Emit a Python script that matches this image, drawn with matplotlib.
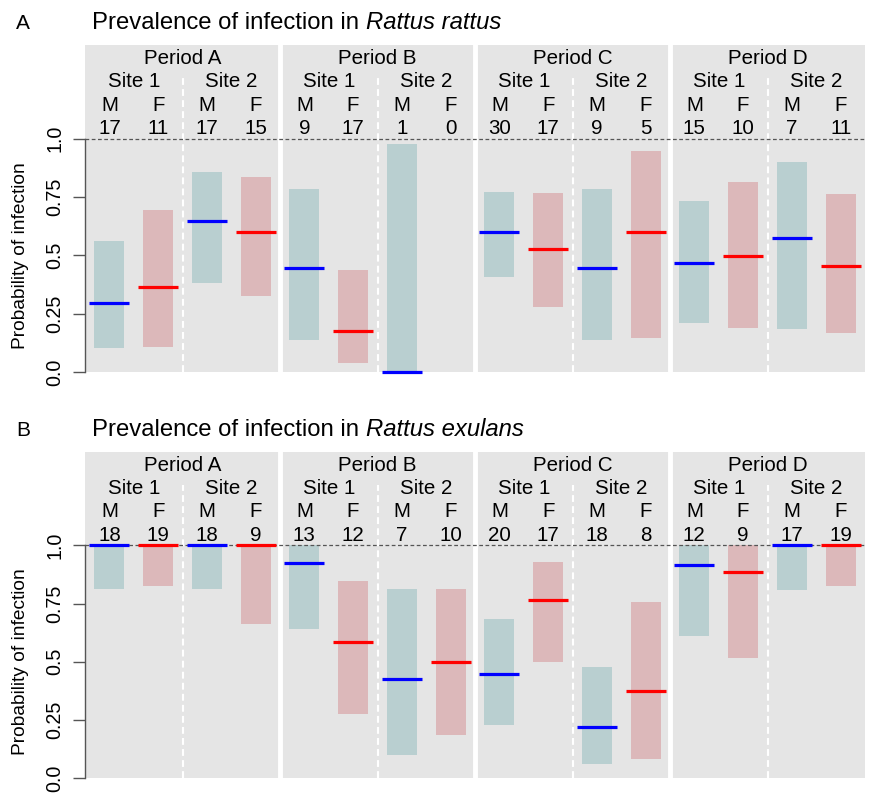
import numpy as np
import matplotlib
matplotlib.use('Agg')
import matplotlib.pyplot as plt

plt.rcParams['font.family'] = ['Liberation Sans', 'DejaVu Sans']

periods = ['Period A', 'Period B', 'Period C', 'Period D']
sites = ['Site 1', 'Site 2']
sexes = ['M', 'F']

# Rattus rattus
n_a = [17, 11, 17, 15, 9, 17, 1, 0, 30, 17, 9, 5, 15, 10, 7, 11]
mean_a = [0.294, 0.366, 0.649, 0.601, 0.446, 0.176, 0.0, np.nan,
          0.600, 0.529, 0.446, 0.600, 0.466, 0.499, 0.573, 0.454]
lo_a = [0.103, 0.107, 0.381, 0.324, 0.136, 0.039, 0.0, np.nan,
        0.406, 0.279, 0.136, 0.147, 0.210, 0.187, 0.184, 0.166]
hi_a = [0.561, 0.693, 0.856, 0.834, 0.786, 0.436, 0.976, np.nan,
        0.770, 0.767, 0.786, 0.947, 0.733, 0.813, 0.899, 0.764]

# Rattus exulans
n_b = [18, 19, 18, 9, 13, 12, 7, 10, 20, 17, 18, 8, 12, 9, 17, 19]
mean_b = [1.0, 1.0, 1.0, 1.0, 0.923, 0.583, 0.425, 0.499,
          0.447, 0.764, 0.219, 0.372, 0.915, 0.887, 1.0, 1.0]
lo_b = [0.812, 0.824, 0.812, 0.662, 0.639, 0.274, 0.097, 0.185,
        0.229, 0.500, 0.062, 0.082, 0.612, 0.516, 0.807, 0.824]
hi_b = [1.0, 1.0, 1.0, 1.0, 1.0, 0.847, 0.812, 0.812,
        0.683, 0.930, 0.476, 0.755, 1.0, 1.0, 1.0, 1.0]

BG = '#e5e5e5'
BAR_COL = {'M': '#b9cfd0', 'F': '#dcb8ba'}
LINE_COL = {'M': '#0000ff', 'F': '#ff0000'}
W, H = 869, 793
FS = 14.8


def draw_panel(ax, n, mean, lo, hi):
    ncol = len(n)
    x = np.arange(ncol)
    ax.set_facecolor(BG)
    ax.set_xlim(-0.5, ncol - 0.5)
    ax.set_ylim(0, 1.4016)

    # separators
    for p in range(1, len(periods)):
        ax.axvline(p * 4 - 0.5, color='white', lw=3.5, zorder=1)
    for p in range(len(periods)):
        ax.plot([p * 4 + 1.5] * 2, [0, 1.26], color='white', lw=1.5,
                ls=(0, (3.3, 2)), zorder=1)

    for i in x:
        sex = sexes[i % 2]
        if np.isnan(mean[i]):
            continue
        ax.bar(i, hi[i] - lo[i], bottom=lo[i], width=0.615,
               color=BAR_COL[sex], zorder=2)
    ax.plot([-0.5, ncol - 0.5], [1, 1], color='#555555', lw=0.9,
            ls=(0, (3, 2)), zorder=3, clip_on=False)
    for i in x:
        sex = sexes[i % 2]
        if np.isnan(mean[i]):
            continue
        ax.plot([i - 0.41, i + 0.41], [mean[i]] * 2, color=LINE_COL[sex],
                lw=2.3, solid_capstyle='butt', zorder=4, clip_on=False)

    # header text
    for p, name in enumerate(periods):
        ax.text(p * 4 + 1.5, 1.320, name, ha='center', va='baseline', fontsize=FS)
        for s, site in enumerate(sites):
            ax.text(p * 4 + s * 2 + 0.5, 1.222, site, ha='center',
                    va='baseline', fontsize=FS)
    for i in x:
        ax.text(i, 1.120, sexes[i % 2], ha='center', va='baseline', fontsize=FS)
        ax.text(i, 1.020, str(n[i]), ha='center', va='baseline', fontsize=FS)

    for side in ['top', 'right', 'bottom']:
        ax.spines[side].set_visible(False)
    ax.spines['left'].set_bounds(0, 1)
    ax.spines['left'].set_color('#555555')
    ax.spines['left'].set_linewidth(1.0)
    ax.set_xticks([])
    ax.set_yticks([0, 0.25, 0.5, 0.75, 1.0])
    ax.set_yticklabels(['0.0', '0.25', '0.5', '0.75', '1.0'], rotation=90,
                       va='center', fontsize=14.2)
    ax.tick_params(axis='y', length=8.6, width=1.0, color='#555555', pad=6.5)


def main():
    fig = plt.figure(figsize=(W / 100, H / 100), dpi=100)
    renderer = fig.canvas.get_renderer()
    panels = [('A', 'rattus', 45, 372, n_a, mean_a, lo_a, hi_a, 29.3),
              ('B', 'exulans', 452, 778, n_b, mean_b, lo_b, hi_b, 436.5)]
    for letter, species, top, bottom, n, mean, lo, hi, base in panels:
        ax = fig.add_axes([85 / W, 1 - bottom / H, 780 / W, (bottom - top) / H])
        draw_panel(ax, n, mean, lo, hi)
        fig.text(16 / W, 1 - base / H, letter, fontsize=15, va='baseline')
        t = fig.text(91.5 / W, 1 - base / H, 'Prevalence of infection in',
                     fontsize=17.2, va='baseline')
        bb = t.get_window_extent(renderer)
        fig.text((bb.x1 + 7) / W, 1 - base / H, 'Rattus ' + species,
                 fontsize=17.2, style='italic', va='baseline')
        ymid = (top + 94 + bottom) / 2
        fig.text(21 / W, 1 - ymid / H, 'Probability of infection', rotation=90,
                 ha='center', va='center', fontsize=13.8)
    fig.savefig('out.png', dpi=100, facecolor='white')


if __name__ == '__main__':
    main()
